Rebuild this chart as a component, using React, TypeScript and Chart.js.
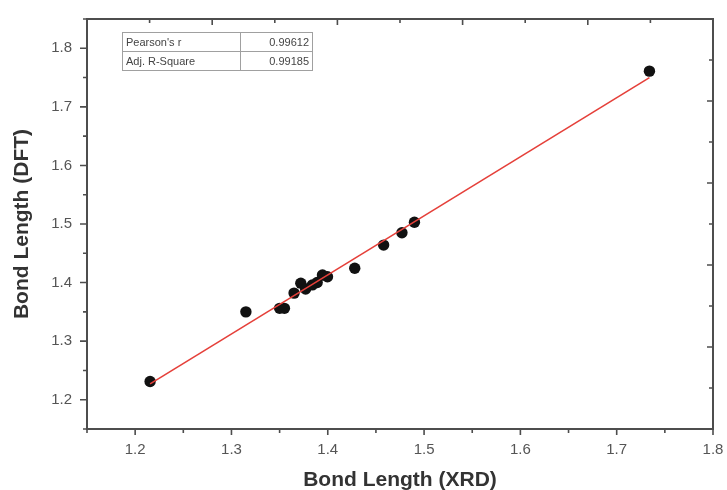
import React, { useEffect, useRef } from "react";
import { Chart, registerables } from "chart.js";

Chart.register(...registerables);

const FONT = "'Liberation Sans', Arial, sans-serif";

// Measured data: bond lengths XRD (x) vs DFT (y)
const xrd = [1.2155, 1.315, 1.35, 1.355, 1.365, 1.372, 1.377, 1.384, 1.389, 1.3945, 1.3997, 1.428, 1.458, 1.477, 1.49, 1.734];
const dft = [1.231, 1.35, 1.356, 1.356, 1.382, 1.399, 1.389, 1.396, 1.4, 1.413, 1.41, 1.4245, 1.464, 1.485, 1.503, 1.761];

// Linear fit line end points
const fitX = [1.2155, 1.734];
const fitY = [1.227, 1.75];

const xTicks = [1.2, 1.3, 1.4, 1.5, 1.6, 1.7, 1.8];
const yTicks = [1.2, 1.3, 1.4, 1.5, 1.6, 1.7, 1.8];
const xMinor = [1.15, 1.25, 1.35, 1.45, 1.55, 1.65, 1.75];
const yMinor = [1.15, 1.25, 1.35, 1.45, 1.55, 1.65, 1.75, 1.85];

const statLabels = ["Pearson's r", "Adj. R-Square"];
const statValues = ["0.99612", "0.99185"];

const framePlugin = {
  id: "frame",
  afterDraw(chart: any) {
    const { ctx, chartArea } = chart;
    const { left, right, top, bottom } = chartArea;
    const xs = chart.scales.x;
    const ys = chart.scales.y;
    ctx.save();
    ctx.strokeStyle = "#4d4d4d";
    ctx.lineWidth = 2;
    ctx.strokeRect(left, top, right - left, bottom - top);
    ctx.lineWidth = 1.6;
    ctx.beginPath();
    xTicks.forEach((v) => {
      const p = xs.getPixelForValue(v);
      ctx.moveTo(p, bottom);
      ctx.lineTo(p, bottom + 6);
    });
    xMinor.forEach((v) => {
      const p = xs.getPixelForValue(v);
      ctx.moveTo(p, bottom);
      ctx.lineTo(p, bottom + 4);
    });
    yTicks.forEach((v) => {
      const p = ys.getPixelForValue(v);
      ctx.moveTo(left, p);
      ctx.lineTo(left - 7, p);
    });
    yMinor.forEach((v) => {
      const p = ys.getPixelForValue(v);
      ctx.moveTo(left, p);
      ctx.lineTo(left - 4, p);
    });
    // top & right inward ticks (10 divisions)
    for (let i = 1; i < 10; i++) {
      const len = i % 2 === 0 ? 6 : 4;
      const px = left + (i * (right - left)) / 10;
      ctx.moveTo(px, top);
      ctx.lineTo(px, top + len);
      const py = top + (i * (bottom - top)) / 10;
      ctx.moveTo(right, py);
      ctx.lineTo(right - len, py);
    }
    ctx.stroke();

    // stats table
    const tx = left + 35;
    const ty = top + 13;
    const tw = 190;
    const rh = 19;
    const cx = tx + 118;
    ctx.strokeStyle = "#a0a0a0";
    ctx.lineWidth = 1;
    ctx.strokeRect(tx + 0.5, ty + 0.5, tw, rh * 2);
    ctx.beginPath();
    ctx.moveTo(tx, ty + rh + 0.5);
    ctx.lineTo(tx + tw, ty + rh + 0.5);
    ctx.moveTo(cx + 0.5, ty);
    ctx.lineTo(cx + 0.5, ty + rh * 2);
    ctx.stroke();
    ctx.fillStyle = "#444";
    ctx.font = `11px ${FONT}`;
    ctx.textBaseline = "middle";
    statLabels.forEach((s, i) => {
      ctx.textAlign = "left";
      ctx.fillText(s, tx + 4, ty + rh * i + rh / 2 + 1);
      ctx.textAlign = "right";
      ctx.fillText(statValues[i], tx + tw - 3, ty + rh * i + rh / 2 + 1);
    });
    ctx.restore();
  },
};

export default function App() {
  const ref = useRef<HTMLCanvasElement | null>(null);
  useEffect(() => {
    document.body.style.margin = "0";
    const canvas = ref.current;
    if (!canvas) return;
    const chart = new Chart(canvas, {
      type: "scatter",
      data: {
        datasets: [
          {
            type: "line",
            data: fitX.map((x, i) => ({ x, y: fitY[i] })),
            borderColor: "#e5403a",
            borderWidth: 1.6,
            pointRadius: 0,
            order: 0,
          } as any,
          {
            type: "scatter",
            data: xrd.map((x, i) => ({ x, y: dft[i] })),
            backgroundColor: "#111",
            borderColor: "#111",
            borderWidth: 0,
            pointRadius: 5.7,
            order: 1,
          },
        ],
      },
      options: {
        animation: false,
        responsive: false,
        events: [],
        layout: { padding: { top: 19, right: 14, left: 0, bottom: 0 } },
        plugins: { legend: { display: false }, tooltip: { enabled: false } },
        scales: {
          x: {
            type: "linear",
            min: 1.15,
            max: 1.8,
            afterBuildTicks: (s: any) => {
              s.ticks = xTicks.map((v) => ({ value: v }));
            },
            afterFit: (s: any) => {
              s.height = 61;
              s.paddingLeft = 0;
              s.paddingRight = 0;
              s.paddingTop = 0;
              s.paddingBottom = 0;
            },
            grid: { display: false, drawTicks: false },
            border: { display: false },
            ticks: {
              padding: 12,
              color: "#555",
              font: { family: FONT, size: 15 },
              callback: (v: any) => Number(v).toFixed(1),
            },
            title: {
              display: true,
              text: "Bond Length (XRD)",
              color: "#333",
              font: { family: FONT, size: 21, weight: "bold", lineHeight: 1 },
              padding: { top: 0, bottom: -1 },
            },
          },
          y: {
            type: "linear",
            min: 1.15,
            max: 1.85,
            afterBuildTicks: (s: any) => {
              s.ticks = yTicks.map((v) => ({ value: v }));
            },
            afterFit: (s: any) => {
              s.width = 87;
              s.paddingLeft = 0;
              s.paddingRight = 0;
              s.paddingTop = 0;
              s.paddingBottom = 0;
            },
            grid: { display: false, drawTicks: false },
            border: { display: false },
            ticks: {
              padding: 15,
              color: "#555",
              font: { family: FONT, size: 15 },
              callback: (v: any) => Number(v).toFixed(1),
            },
            title: {
              display: true,
              text: "Bond Length (DFT)",
              color: "#333",
              font: { family: FONT, size: 21, weight: "bold", lineHeight: 1 },
              padding: { top: 12, bottom: 0 },
            },
          },
        },
      },
      plugins: [framePlugin],
    });
    return () => chart.destroy();
  }, []);
  return (
    <div style={{ width: 727, height: 490 }}>
      <canvas ref={ref} width={727} height={490} />
    </div>
  );
}
